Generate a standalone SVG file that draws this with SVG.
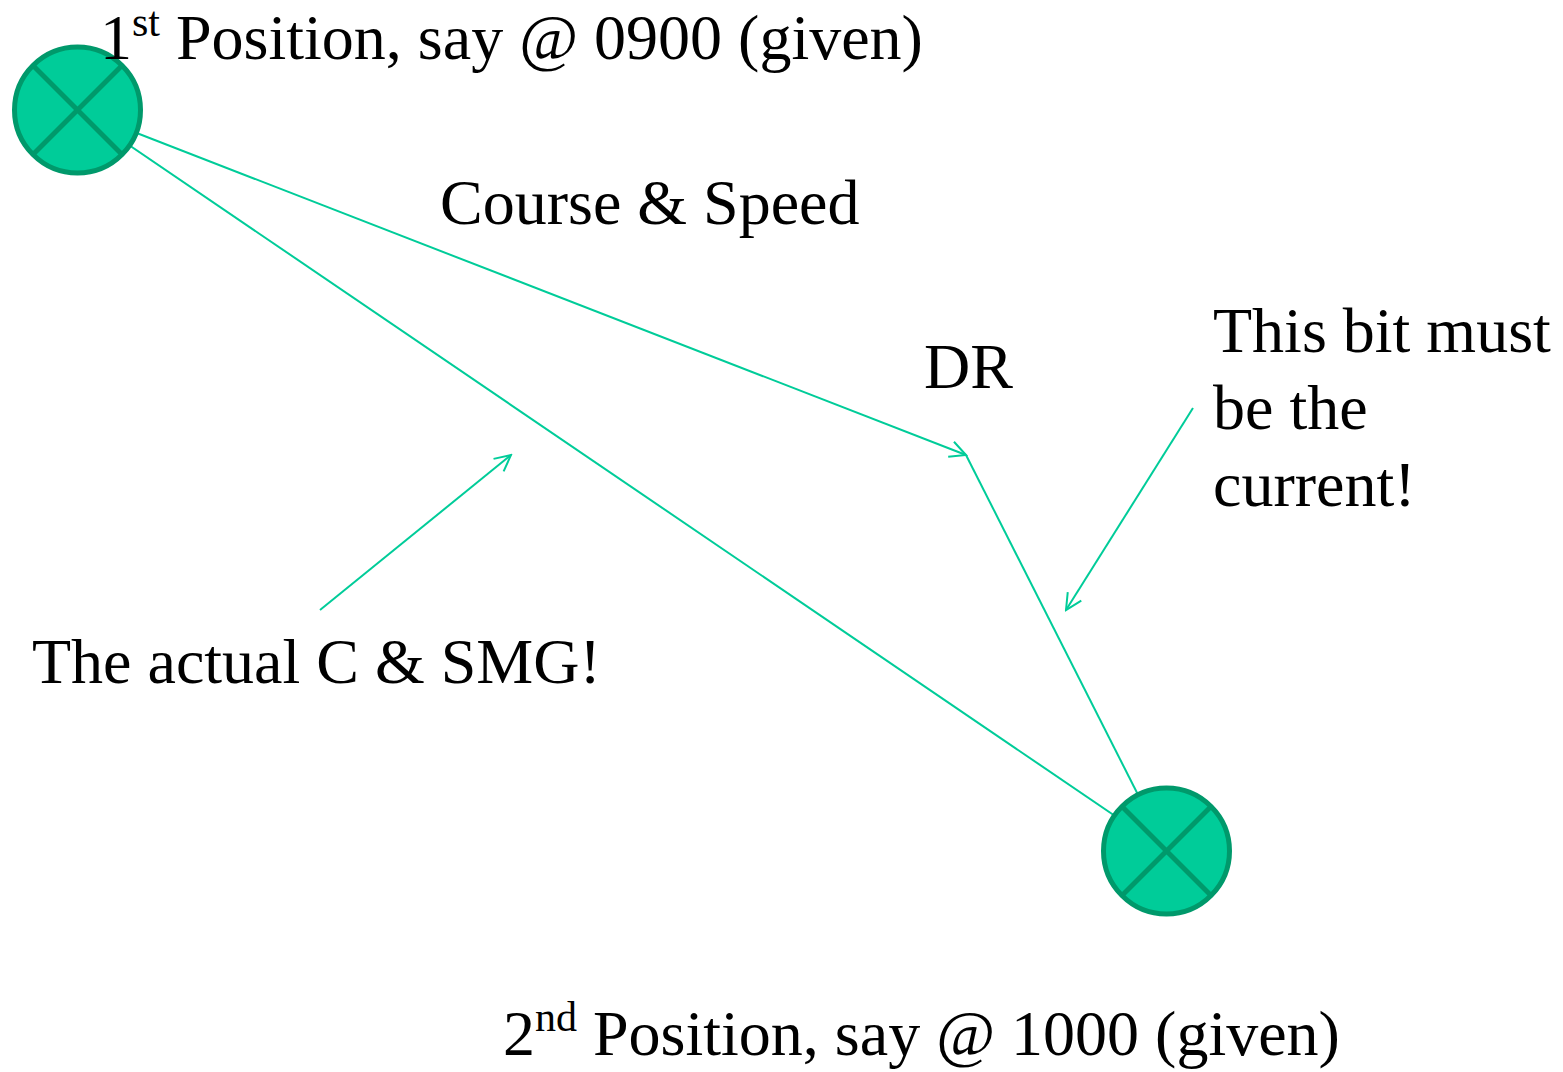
<svg xmlns="http://www.w3.org/2000/svg" width="1563" height="1072" viewBox="0 0 1563 1072">
  <style>
    .lbl { font-family: "Liberation Serif", "Times New Roman", serif; font-size: 64px; fill: #000; }
    .sup { font-size: 42px; }
    .conn { stroke: #00CC99; stroke-width: 2; fill: none; }
    .pos-ring { fill: #00CC99; stroke: #00996B; stroke-width: 5; }
    .pos-cross { stroke: #00996B; stroke-width: 5; stroke-linecap: butt; }
  </style>
  <defs>
    <marker id="openArrow" viewBox="0 0 20 20" refX="18" refY="10" markerWidth="20" markerHeight="20" markerUnits="userSpaceOnUse" orient="auto">
      <path d="M2,2 L18,10 L2,18" fill="none" stroke="#00CC99" stroke-width="2"/>
    </marker>
  </defs>

  <rect width="1563" height="1072" fill="#fff"/>

  <!-- track lines between fixes -->
  <g id="connectors">
    <line id="course-speed" class="conn" x1="77.5" y1="110" x2="966" y2="455" marker-end="url(#openArrow)"/>
    <line id="current-set" class="conn" x1="966" y1="455" x2="1166.5" y2="851"/>
    <line id="cmg" class="conn" x1="77.5" y1="110" x2="1166.5" y2="851"/>
    <line id="cmg-pointer" class="conn" x1="320" y1="610" x2="511" y2="455" marker-end="url(#openArrow)"/>
    <line id="current-pointer" class="conn" x1="1193" y1="408" x2="1066" y2="610" marker-end="url(#openArrow)"/>
  </g>

  <!-- fix symbols -->
  <g id="pos1">
    <circle class="pos-ring" cx="77.5" cy="110" r="63"/>
    <line class="pos-cross" x1="32.5" y1="65" x2="122.5" y2="155"/>
    <line class="pos-cross" x1="122.5" y1="65" x2="32.5" y2="155"/>
  </g>
  <g id="pos2">
    <circle class="pos-ring" cx="1166.5" cy="851" r="63"/>
    <line class="pos-cross" x1="1121.5" y1="806" x2="1211.5" y2="896"/>
    <line class="pos-cross" x1="1211.5" y1="806" x2="1121.5" y2="896"/>
  </g>

  <!-- labels -->
  <g id="label-pos1">
    <text class="lbl" x="100" y="59">1<tspan class="sup" dy="-23">st</tspan><tspan dy="23"> Position, say @ 0900 (given)</tspan></text>
  </g>
  <g id="label-course">
    <text class="lbl" x="440" y="224">Course &amp; Speed</text>
  </g>
  <g id="label-dr">
    <text class="lbl" x="924" y="388">DR</text>
  </g>
  <g id="label-current">
    <text class="lbl" x="1213" y="352">This bit must</text>
    <text class="lbl" x="1213" y="429">be the</text>
    <text class="lbl" x="1213" y="506">current!</text>
  </g>
  <g id="label-cmg">
    <text class="lbl" x="32" y="683">The actual C &amp; SMG!</text>
  </g>
  <g id="label-pos2">
    <text class="lbl" x="503" y="1055">2<tspan class="sup" dy="-24">nd</tspan><tspan dy="24"> Position, say @ 1000 (given)</tspan></text>
  </g>
</svg>
